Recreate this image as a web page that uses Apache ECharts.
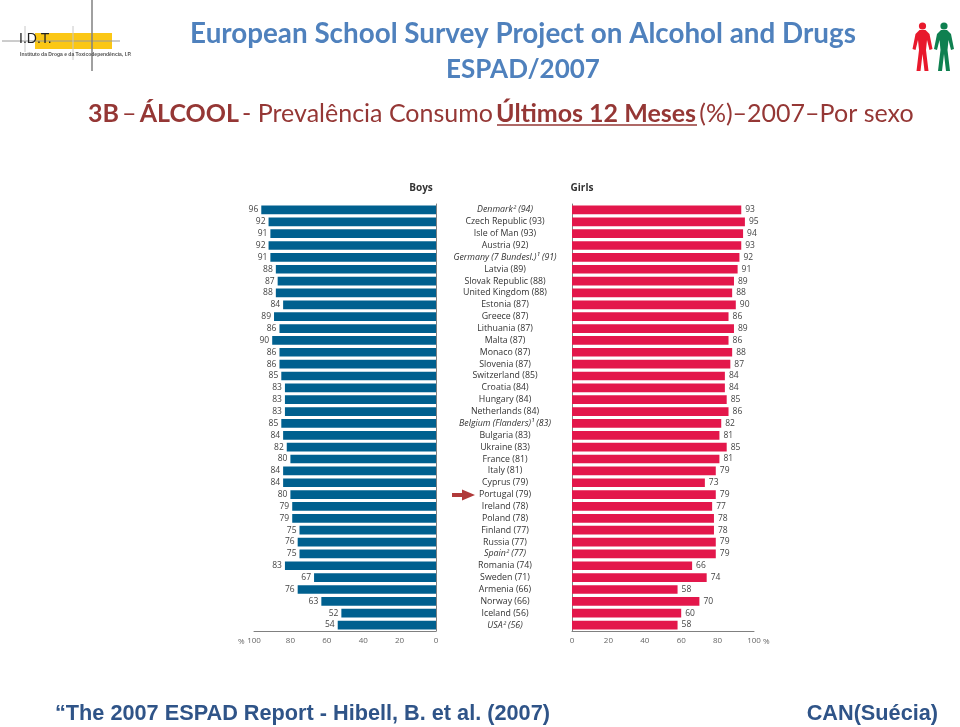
<!DOCTYPE html>
<html><head><meta charset="utf-8">
<style>html,body{margin:0;padding:0;background:#fff}#c{width:960px;height:727px}</style>
<script src="https://cdn.jsdelivr.net/npm/echarts@6/dist/echarts.min.js"></script>
</head><body><div id="c"></div>
<script>
const countries = ['Denmark² (94)','Czech Republic (93)','Isle of Man (93)','Austria (92)','Germany (7 Bundesl.)¹ (91)','Latvia (89)','Slovak Republic (88)','United Kingdom (88)','Estonia (87)','Greece (87)','Lithuania (87)','Malta (87)','Monaco (87)','Slovenia (87)','Switzerland (85)','Croatia (84)','Hungary (84)','Netherlands (84)','Belgium (Flanders)¹ (83)','Bulgaria (83)','Ukraine (83)','France (81)','Italy (81)','Cyprus (79)','Portugal (79)','Ireland (78)','Poland (78)','Finland (77)','Russia (77)','Spain² (77)','Romania (74)','Sweden (71)','Armenia (66)','Norway (66)','Iceland (56)','USA² (56)'];
const boys = [96,92,91,92,91,88,87,88,84,89,86,90,86,86,85,83,83,83,85,84,82,80,84,84,80,79,79,75,76,75,83,67,76,63,52,54];
const girls = [93,95,94,93,92,91,89,88,90,86,89,86,88,87,84,84,85,86,82,81,85,81,79,73,79,77,78,78,79,79,66,74,58,70,60,58];
const italicNames = ['Denmark² (94)','Germany (7 Bundesl.)¹ (91)','Belgium (Flanders)¹ (83)','Spain² (77)','USA² (56)'];

const FONT='"Open Sans"', TITLE='Lato', RED='#953735', ARIAL='"Liberation Sans"';
const txt=(x,y,text,o)=>({type:'text',x,y,silent:true,style:Object.assign({text,fontFamily:FONT,fill:'#333',align:'left',verticalAlign:'middle'},o)});
const ln=(x1,y1,x2,y2,c,w)=>({type:'line',silent:true,shape:{x1,y1,x2,y2},style:{stroke:c,lineWidth:w}});
const poly=(points,fill)=>({type:'polygon',silent:true,shape:{points},style:{fill}});
const figure=(cx,c)=>[
 {type:'circle',silent:true,shape:{cx,cy:26,r:3.6},style:{fill:c}},
 poly([[cx-3,30],[cx+3,30],[cx+7,34],[cx+10,49],[cx+7,50],[cx+4.5,40],[cx+3.5,50],[cx+6,71],[cx+2,71],[cx,54],[cx-2,71],[cx-6,71],[cx-3.5,50],[cx-4.5,40],[cx-7,50],[cx-10,49],[cx-7,34]],c)];

const axisText={color:'#666',fontSize:8,fontFamily:FONT,margin:6};
const series=(name,data,xi,color,pos,dist)=>({name,type:'bar',xAxisIndex:xi,yAxisIndex:xi,data,barWidth:8.7,silent:true,
  itemStyle:{color},label:{show:true,position:pos,distance:dist,color:'#444',fontSize:8.5,fontFamily:FONT}});
const xa=(gridIndex,inverse)=>({type:'value',gridIndex,inverse,min:0,max:100,interval:20,splitLine:{show:false},
  axisTick:{show:false},axisLabel:axisText,axisLine:{show:true,onZero:false,lineStyle:{color:'#808080',width:1}}});

const chart=echarts.init(document.getElementById('c'),null,{renderer:'canvas'});
chart.setOption({
 animation:false,backgroundColor:'#fff',
 title:[
  {text:'European School Survey Project on Alcohol and Drugs',left:518,textAlign:'center',top:15,textStyle:{fontFamily:TITLE,fontWeight:'bold',fontSize:27.8,color:'#4f81bd'}},
  {text:'ESPAD/2007',left:518,textAlign:'center',top:52,textStyle:{fontFamily:TITLE,fontWeight:'bold',fontSize:26,color:'#4f81bd'}}
 ],
 grid:[{left:254,width:182,top:204,height:427},{left:572,width:182,top:204,height:427}],
 xAxis:[xa(0,true),xa(1,false)],
 yAxis:[
  {type:'category',gridIndex:0,inverse:true,position:'right',data:countries,axisTick:{show:false},axisLabel:{show:false},axisLine:{show:true,lineStyle:{color:'#808080',width:1}}},
  {type:'category',gridIndex:1,inverse:true,position:'left',data:countries,axisTick:{show:false},
   axisLine:{show:true,lineStyle:{color:'#808080',width:1}},
   axisLabel:{interval:0,margin:67,align:'center',fontFamily:FONT,fontSize:8.8,color:'#333',
     formatter:v=>italicNames.includes(v)?'{i|'+v+'}':v,rich:{i:{fontStyle:'italic',fontFamily:FONT,fontSize:8.8,color:'#333'}}}}
 ],
 series:[series('Boys',boys,0,'#00608f','left',3),series('Girls',girls,1,'#e3174b','right',4)],
 graphic:{elements:[
  txt(421,188,'Boys',{fontSize:10,fontWeight:'bold',align:'center'}),
  txt(582,188,'Girls',{fontSize:10,fontWeight:'bold',align:'center'}),
  txt(238,642,'%',{fontSize:8,fill:'#666'}),
  txt(763,642,'%',{fontSize:8,fill:'#666'}),
  poly([[452,493],[462,493],[462,489.5],[475,495],[462,500.5],[462,497],[452,497]],'#b03a3a'),
  txt(88,114,'{b|3B} {n|–} {b|ÁLCOOL} {n|- Prevalência Consumo} {b|Últimos 12 Meses} {n|(%)–2007–Por sexo}',{
    rich:{b:{fontFamily:TITLE,fontWeight:'bold',fontSize:25,fill:RED},n:{fontFamily:TITLE,fontSize:25,fill:RED}}}),
  ln(497,125,697,125,RED,1.5),
  txt(55,714,'“The 2007 ESPAD Report - Hibell, B. et al. (2007)',{fontFamily:ARIAL,fontWeight:'bold',fontSize:21.7,fill:'#2f5488'}),
  txt(938,714,'CAN(Suécia)',{fontFamily:ARIAL,fontWeight:'bold',fontSize:21.7,fill:'#2f5488',align:'right'}),
  {type:'rect',silent:true,shape:{x:35,y:33,width:77,height:16},style:{fill:'#fbc715'}},
  ln(2,41,120,41,'#9a9a9a',1),ln(92,0,92,71,'#808080',1.5),ln(25,26,25,52,'#c8c8c8',1),ln(73,26,73,60,'#c8c8c8',1),
  txt(19,39,'I.D.T.',{fontFamily:ARIAL,fontSize:14,fill:'#222'}),
  txt(20,54.5,'Instituto da Droga e da Toxicodependência, I.P.',{fontFamily:ARIAL,fontWeight:'bold',fontSize:5,fill:'#555'}),
  ...figure(922.5,'#e8192c'),...figure(944,'#0f8050')
 ]}
});
</script></body></html>
